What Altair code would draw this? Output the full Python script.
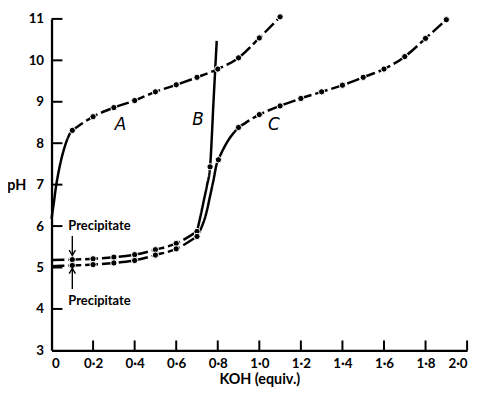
import altair as alt
import pandas as pd

# ---- data ----
A_rise_x = [0.0, 0.012, 0.02, 0.038, 0.062, 0.086, 0.1]
A_rise_y = [6.18, 6.6, 6.9, 7.41, 7.89, 8.21, 8.31]
A_x = [0.1, 0.2, 0.3, 0.4, 0.5, 0.6, 0.7, 0.8, 0.9, 1.0, 1.1]
A_y = [8.31, 8.64, 8.86, 9.03, 9.24, 9.41, 9.59, 9.79, 10.06, 10.54, 11.05]

B_low_x = [0.0, 0.1, 0.2, 0.3, 0.4, 0.5, 0.6, 0.7]
B_low_y = [5.18, 5.19, 5.21, 5.25, 5.31, 5.43, 5.58, 5.87]
B_rise_x = [0.7, 0.72, 0.733, 0.748, 0.763, 0.78, 0.795]
B_rise_y = [5.87, 6.31, 6.62, 6.98, 7.43, 9.05, 10.47]
B_mark_x = [0.1, 0.2, 0.3, 0.4, 0.5, 0.6, 0.7, 0.763]
B_mark_y = [5.19, 5.21, 5.25, 5.31, 5.43, 5.58, 5.87, 7.43]

C_low_x = [0.0, 0.1, 0.2, 0.3, 0.4, 0.5, 0.6, 0.7]
C_low_y = [5.03, 5.05, 5.07, 5.11, 5.17, 5.30, 5.45, 5.75]
C_rise_x = [0.7, 0.72, 0.744, 0.762, 0.779, 0.795, 0.803, 0.848, 0.9]
C_rise_y = [5.75, 5.95, 6.30, 6.70, 7.10, 7.50, 7.60, 8.05, 8.38]
C_high_x = [0.9, 1.0, 1.1, 1.2, 1.3, 1.4, 1.5, 1.6, 1.7, 1.8, 1.9]
C_high_y = [8.38, 8.69, 8.90, 9.08, 9.24, 9.40, 9.59, 9.79, 10.09, 10.53, 10.98]
C_mark_x = [0.1, 0.2, 0.3, 0.4, 0.5, 0.6, 0.7, 0.803] + C_high_x
C_mark_y = [5.05, 5.07, 5.11, 5.17, 5.30, 5.45, 5.75, 7.60] + C_high_y

A_mark_x = A_x
A_mark_y = A_y

x_ticks = [0.2, 0.4, 0.6, 0.8, 1.0, 1.2, 1.4, 1.6, 1.8, 2.0]
y_ticks = [4, 5, 6, 7, 8, 9, 10, 11]
x_tick_labels = ["0", "0·2", "0·4", "0·6", "0·8", "1·0", "1·2", "1·4", "1·6", "1·8", "2·0"]

curve_labels = ["A", "B", "C"]
curve_label_x = [0.332, 0.705, 1.07]
curve_label_y = [8.44, 8.57, 8.45]

precip_text = ["Precipitate", "Precipitate"]
precip_x = [0.081, 0.081]
precip_y = [6.0, 4.18]
arrow_x = [0.1, 0.1]
arrow_from = [5.76, 4.48]
arrow_tip = [5.29, 4.98]
arrow_dir = ["down", "up"]

# ---- tables ----
segs = [
    ("A_rise", "solid", A_rise_x, A_rise_y),
    ("A", "dashed", A_x, A_y),
    ("B_low", "dashed", B_low_x, B_low_y),
    ("B_rise", "solid", B_rise_x, B_rise_y),
    ("C_low", "dashed", C_low_x, C_low_y),
    ("C_rise", "solid", C_rise_x, C_rise_y),
    ("C_high", "dashed", C_high_x, C_high_y),
]
rows = []
for name, style, xs, ys in segs:
    for i, (xx, yy) in enumerate(zip(xs, ys)):
        rows.append({"x": xx, "y": yy, "seg": name, "style": style, "order": i})
lines_df = pd.DataFrame(rows)

pts_df = pd.DataFrame({
    "x": A_mark_x + B_mark_x + C_mark_x,
    "y": A_mark_y + B_mark_y + C_mark_y,
})

xt_df = pd.DataFrame({"x": x_ticks})
yt_df = pd.DataFrame({"y": y_ticks})
lab_df = pd.DataFrame({"t": curve_labels, "x": curve_label_x, "y": curve_label_y})
pre_df = pd.DataFrame({"t": precip_text, "x": precip_x, "y": precip_y})
arr_df = pd.DataFrame({"x": arrow_x, "y": arrow_from, "y2": arrow_tip, "d": arrow_dir})

FONT = "Lato"
label_expr = "datum.value == 0 ? '0' : replace(format(datum.value, '.1f'), '.', '·')"

xscale = alt.Scale(domain=[0, 2], nice=False, zero=False)
yscale = alt.Scale(domain=[3, 11], nice=False, zero=False)

X = alt.X("x:Q", scale=xscale,
          axis=alt.Axis(values=[0, 0.2, 0.4, 0.6, 0.8, 1.0, 1.2, 1.4, 1.6, 1.8, 2.0],
                        labelExpr=label_expr, title="KOH (equiv.)",
                        titleY=29, titleBaseline="middle"))
Y = alt.Y("y:Q", scale=yscale,
          axis=alt.Axis(values=[3, 4, 5, 6, 7, 8, 9, 10, 11], title="pH",
                        titleAngle=0, titleX=-26, titleY=168, titleAlign="right",
                        titleBaseline="middle"))

lines = alt.Chart(lines_df).mark_line(color="black", strokeWidth=2.5, interpolate="monotone").encode(
    x=X, y=Y, detail="seg:N", order="order:Q",
    strokeDash=alt.StrokeDash("style:N", scale=alt.Scale(domain=["solid", "dashed"], range=[[1, 0], [13, 4]]), legend=None),
)

points = alt.Chart(pts_df).mark_point(filled=True, size=40, fill="black", stroke="white",
                                      strokeWidth=1, opacity=1).encode(x="x:Q", y="y:Q")

xticks = alt.Chart(xt_df).mark_rule(color="black", strokeWidth=2).encode(
    x="x:Q", y=alt.value(335), y2=alt.value(325))
yticks = alt.Chart(yt_df).mark_rule(color="black", strokeWidth=2).encode(
    y="y:Q", x=alt.value(0), x2=alt.value(11))

labels = alt.Chart(lab_df).mark_text(font="DejaVu Sans", fontStyle="italic", fontSize=17,
                                     color="black").encode(x="x:Q", y="y:Q", text="t:N")
precip = alt.Chart(pre_df).mark_text(font=FONT, fontSize=13, fontWeight="bold", align="left",
                                     baseline="middle", color="black").encode(x="x:Q", y="y:Q", text="t:N")
arrows = alt.Chart(arr_df).mark_rule(color="black", strokeWidth=1.4).encode(x="x:Q", y="y:Q", y2="y2:Q")
heads_down = alt.Chart(arr_df[arr_df.d == "down"]).mark_point(
    shape="M-1,-1.7L0,0L1,-1.7", size=40, filled=False, color="black", strokeWidth=1.4, opacity=1
).encode(x="x:Q", y="y2:Q")
heads_up = alt.Chart(arr_df[arr_df.d == "up"]).mark_point(
    shape="M-1,1.7L0,0L1,1.7", size=40, filled=False, color="black", strokeWidth=1.4, opacity=1
).encode(x="x:Q", y="y2:Q")

chart = alt.layer(lines, points, xticks, yticks, labels, precip, arrows, heads_down, heads_up).properties(
    width=420, height=335,
    autosize=alt.AutoSizeParams(type="none"),
    padding={"left": 44, "top": 9, "right": 10, "bottom": 36},
).configure_view(stroke=None).configure_axis(
    domainColor="black", domainWidth=2.3, ticks=False, grid=False,
    labelFont=FONT, labelFontSize=13.5, labelFontWeight="bold", labelColor="black",
    titleFont=FONT, titleFontSize=14.5, titleFontWeight="bold", titleColor="black",
).configure_axisX(labelPadding=6).configure_axisY(labelPadding=8)

chart.save("out.html", embed_options={"renderer": "svg", "actions": False})
